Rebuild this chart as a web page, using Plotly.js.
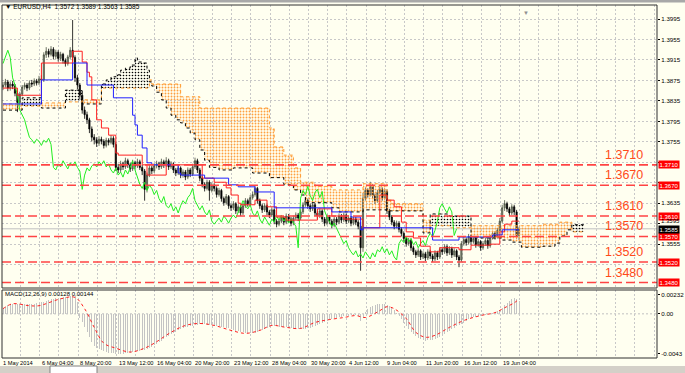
<!DOCTYPE html>
<html><head><meta charset="utf-8">
<script src="https://cdn.plot.ly/plotly-3.0.1.min.js"></script>
<style>html,body{margin:0;padding:0;background:#fffff0;}#chart{width:685px;height:373px;}</style>
</head><body><div id="chart"></div>
<script>
// ---- price data (in pips, price*10000), one value per H4 bar ----
const openP = [13862,13866,13872,13860,13868,13864,13850,13832,13848,13862,13866,13860,13870,13868,13874,13870,13878,13876,13925,13932,13926,13936,13922,13930,13918,13926,13914,13908,13921,13934,13920,13880,13866,13846,13817,13808,13798,13780,13764,13759,13752,13760,13756,13748,13758,13754,13762,13750,13705,13700,13712,13706,13718,13710,13702,13714,13708,13716,13705,13698,13662,13690,13704,13698,13708,13712,13706,13716,13710,13718,13706,13712,13700,13694,13704,13690,13696,13686,13700,13692,13706,13718,13700,13684,13672,13664,13676,13660,13670,13664,13652,13660,13644,13636,13648,13630,13626,13634,13620,13628,13616,13630,13640,13634,13646,13652,13664,13640,13630,13622,13630,13618,13612,13622,13600,13594,13600,13606,13598,13610,13604,13596,13606,13612,13606,13618,13632,13640,13630,13624,13632,13616,13610,13620,13604,13596,13608,13600,13592,13604,13598,13610,13602,13612,13600,13606,13596,13604,13598,13590,13548,13645,13660,13652,13668,13650,13640,13656,13662,13646,13658,13620,13608,13598,13590,13596,13584,13576,13566,13556,13562,13548,13540,13534,13542,13530,13536,13528,13540,13532,13526,13538,13530,13544,13540,13550,13538,13546,13534,13542,13530,13524,13556,13564,13558,13570,13560,13566,13554,13560,13548,13556,13562,13552,13568,13576,13570,13582,13600,13626,13634,13624,13616,13628,13618,13572];
const highP = [13872,13878,13876,13873,13874,13868,13855,13853,13866,13871,13870,13875,13876,13879,13878,13884,13885,13930,13940,13937,13942,13940,13935,13934,13931,13929,13918,13925,13940,13993,13924,13886,13870,13850,13824,13814,13802,13785,13770,13764,13766,13765,13760,13763,13762,13768,13766,13754,13712,13718,13716,13724,13722,13714,13720,13718,13722,13720,13710,13702,13695,13710,13708,13713,13718,13716,13722,13720,13725,13722,13717,13715,13704,13709,13707,13701,13700,13705,13704,13712,13724,13722,13704,13688,13676,13681,13680,13675,13674,13668,13665,13663,13648,13653,13651,13634,13639,13637,13633,13631,13635,13645,13644,13651,13658,13670,13667,13644,13634,13635,13633,13622,13627,13625,13604,13605,13611,13610,13615,13614,13608,13611,13617,13616,13623,13637,13646,13644,13634,13637,13635,13620,13625,13623,13608,13613,13612,13604,13609,13608,13615,13614,13617,13615,13611,13610,13609,13608,13602,13598,13655,13666,13664,13677,13672,13654,13661,13668,13666,13664,13662,13624,13612,13602,13601,13600,13588,13580,13570,13567,13566,13552,13544,13547,13545,13541,13540,13545,13544,13536,13543,13542,13549,13548,13555,13554,13551,13550,13547,13545,13534,13561,13570,13568,13575,13574,13571,13569,13565,13563,13561,13567,13566,13573,13581,13580,13587,13606,13632,13641,13638,13628,13633,13632,13622,13589];
const lowP = [13856,13861,13854,13855,13858,13844,13813,13826,13844,13857,13854,13856,13862,13864,13865,13866,13870,13872,13919,13920,13922,13916,13917,13912,13913,13908,13902,13904,13917,13912,13872,13858,13838,13810,13800,13790,13772,13756,13750,13745,13747,13750,13742,13744,13748,13750,13744,13698,13694,13696,13700,13702,13704,13696,13698,13702,13704,13700,13690,13640,13656,13686,13692,13694,13703,13700,13702,13704,13706,13700,13702,13694,13688,13690,13684,13685,13680,13682,13686,13688,13702,13694,13678,13666,13658,13660,13640,13656,13658,13646,13648,13638,13630,13632,13624,13620,13622,13614,13616,13610,13612,13626,13628,13630,13642,13648,13634,13624,13616,13618,13612,13606,13608,13594,13588,13590,13596,13592,13594,13598,13590,13592,13602,13600,13602,13614,13628,13624,13618,13620,13610,13604,13606,13598,13590,13592,13594,13586,13588,13592,13594,13596,13598,13594,13596,13590,13592,13592,13584,13503,13540,13640,13646,13648,13644,13634,13636,13652,13640,13642,13614,13602,13592,13584,13586,13578,13570,13560,13550,13552,13542,13534,13528,13530,13524,13526,13522,13524,13526,13520,13522,13524,13526,13534,13536,13532,13534,13528,13530,13524,13510,13520,13552,13552,13554,13554,13556,13548,13550,13542,13544,13552,13546,13548,13564,13564,13566,13578,13596,13620,13618,13610,13612,13612,13566,13563];
const closeP = [13866,13872,13860,13868,13864,13850,13832,13848,13862,13866,13860,13870,13868,13874,13870,13878,13876,13925,13932,13926,13936,13922,13930,13918,13926,13914,13908,13921,13934,13920,13880,13866,13846,13817,13808,13798,13780,13764,13759,13752,13760,13756,13748,13758,13754,13762,13750,13705,13700,13712,13706,13718,13710,13702,13714,13708,13716,13705,13698,13662,13690,13704,13698,13708,13712,13706,13716,13710,13718,13706,13712,13700,13694,13704,13690,13696,13686,13700,13692,13706,13718,13700,13684,13672,13664,13676,13660,13670,13664,13652,13660,13644,13636,13648,13630,13626,13634,13620,13628,13616,13630,13640,13634,13646,13652,13664,13640,13630,13622,13630,13618,13612,13622,13600,13594,13600,13606,13598,13610,13604,13596,13606,13612,13606,13618,13632,13640,13630,13624,13632,13616,13610,13620,13604,13596,13608,13600,13592,13604,13598,13610,13602,13612,13600,13606,13596,13604,13598,13590,13548,13645,13660,13652,13668,13650,13640,13656,13662,13646,13658,13620,13608,13598,13590,13596,13584,13576,13566,13556,13562,13548,13540,13534,13542,13530,13536,13528,13540,13532,13526,13538,13530,13544,13540,13550,13538,13546,13534,13542,13530,13524,13556,13564,13558,13570,13560,13566,13554,13560,13548,13556,13562,13552,13568,13576,13570,13582,13600,13626,13634,13624,13616,13628,13618,13572,13585];

// ---- Ichimoku (bar index, pips) ----
const tenkanX = [0,6,16,29,33,35,36,37,39,41,44,47,48,58,60,68,83,88,93,95,98,99,105,110,114,118,131,137,142,150,157,160,163,166,168,171,174,178,182,190,195,203,207,209,212,215];
const tenkanY = [13860,13846,13909,13932,13911,13891,13882,13837,13798,13782,13768,13733,13729,13710,13690,13710,13684,13676,13665,13651,13635,13632,13641,13628,13608,13602,13624,13610,13604,13587,13651,13641,13628,13598,13579,13567,13551,13540,13548,13544,13553,13555,13579,13594,13600,13600];
const kijunX = [0,16,29,35,46,54,55,56,58,60,62,73,74,84,94,98,105,113,137,145,149,150,179,190,204,208,215];
const kijunY = [13829,13876,13909,13866,13841,13807,13788,13768,13743,13714,13710,13694,13690,13684,13671,13667,13657,13626,13618,13608,13583,13587,13563,13569,13573,13583,13583];
const cloudX = [0,8,16,26,33,41,43,45,47,49,51,53,55,56,58,60,61,62,64,66,68,70,72,74,76,78,80,82,84,86,90,96,104,111,113,117,121,124,126,130,137,140,150,160,162,175,178,186,195,208,212,216,225,230,232,235,237,242];
const spanA = [13829,13825,13831,13833,13837,13860,13860,13860,13860,13860,13860,13860,13860,13860,13860,13860,13876,13868,13868,13868,13868,13868,13868,13843,13843,13843,13843,13821,13821,13821,13821,13821,13821,13782,13745,13729,13704,13676,13676,13668,13661,13661,13673,13641,13634,13602,13591,13587,13591,13591,13591,13591,13594,13594,13598,13598,13579,13579];
const spanB = [13817,13841,13821,13856,13829,13868,13876,13882,13886,13895,13899,13905,13919,13911,13909,13895,13872,13864,13852,13837,13821,13807,13798,13792,13782,13772,13759,13739,13719,13705,13700,13704,13694,13685,13685,13671,13661,13651,13636,13636,13626,13618,13622,13620,13620,13577,13614,13610,13567,13563,13559,13549,13551,13557,13571,13583,13593,13593];
const chikouShift = 26;

// ---- MACD (1e-5 units) ----
const macdHist = [55,70,85,95,98,100,99,97,96,95,96,97,99,100,102,105,112,120,128,135,140,145,150,155,158,162,165,168,172,175,176,120,-40,-80,-130,-180,-230,-270,-310,-330,-345,-355,-365,-375,-380,-385,-385,-390,-392,-390,-388,-385,-382,-378,-375,-370,-365,-360,-355,-352,-345,-335,-320,-305,-290,-275,-260,-245,-230,-215,-200,-185,-172,-160,-150,-140,-132,-125,-120,-115,-110,-105,-100,-100,-102,-105,-108,-110,-115,-118,-122,-126,-130,-135,-140,-150,-158,-165,-170,-175,-180,-185,-188,-190,-188,-182,-175,-165,-155,-145,-135,-128,-122,-120,-122,-125,-128,-130,-132,-135,-140,-145,-148,-150,-150,-148,-145,-140,-135,-125,-115,-105,-95,-85,-75,-65,-58,-50,-45,-40,-35,-30,-25,-20,-18,-15,-12,-10,-20,-70,-40,20,50,70,80,88,95,100,100,98,90,75,55,35,10,-20,-50,-85,-120,-150,-175,-200,-220,-235,-245,-255,-260,-258,-255,-250,-245,-235,-222,-208,-195,-180,-165,-150,-135,-120,-110,-100,-85,-70,-55,-45,-35,-30,-25,-20,-15,-10,-5,0,10,20,30,40,60,90,110,125,140,150,140,128];
const sigX = [0,4,11,15,24,30,34,38,42,47,53,59,63,70,76,82,88,95,101,107,112,118,124,130,136,142,147,151,157,160,163,168,172,176,180,186,192,199,205,209,213,215];
const sigY = [50,98,79,79,146,160,50,-132,-286,-334,-372,-334,-286,-180,-113,-94,-113,-161,-190,-161,-113,-132,-142,-84,-56,-36,-17,-36,31,69,50,-46,-180,-228,-209,-132,-65,-17,12,59,107,144];

// ---- labels ----
const xLabels = ['1 May 2014','6 May 04:00','8 May 20:00','13 May 12:00','16 May 04:00','20 May 20:00','23 May 12:00','28 May 04:00','30 May 20:00','4 Jun 12:00','9 Jun 04:00','11 Jun 20:00','16 Jun 12:00','19 Jun 04:00'];
const yTicks = [1.3995,1.3955,1.3915,1.3875,1.3835,1.3795,1.3755,1.3715,1.3675,1.3635,1.3595,1.3555,1.3515];
const yTickHidden = [1.3715,1.3675,1.3515]; // covered by the level boxes in the reference
const yTickRaised = [1.3595];               // squeezed above the current-price box in the reference
const levels = [1.3710,1.3670,1.3610,1.3570,1.3520,1.3480];
const lastPrice = 1.3585;
const titleText = '\u25BC EURUSD,H4  1.3572 1.3589 1.3563 1.3585';
const macdTitle = 'MACD(12,26,9) 0.00128 0.00144';
const macdTickVals = [0.00185, 0, -0.0039];
const macdTickText = ['0.00232','0.00','-0.0043'];

const P = v => v / 10000;
const M = v => v / 100000;
const FONT = 'Liberation Sans, Arial, sans-serif';

const idx = closeP.map((_, i) => i);
const traces = [];

// cloud segments
function sgn(j){ return spanA[j] >= spanB[j] ? 1 : -1; }
let s = 0;
for (let j = 1; j < cloudX.length; j++) {
  if (j === cloudX.length - 1 || sgn(j) !== sgn(s)) {
    const xs = cloudX.slice(s, j).concat([cloudX[j]]);
    const a = spanA.slice(s, j).concat([spanA[j-1]]).map(P);
    const b = spanB.slice(s, j).concat([spanB[j-1]]).map(P);
    const orange = sgn(s) > 0;
    traces.push({x: xs, y: b, mode: 'lines', line: {width: 0, shape: 'hv'}, hoverinfo: 'skip', xaxis: 'x', yaxis: 'y'});
    traces.push({x: xs, y: a, mode: 'lines', line: {width: 0, shape: 'hv'}, fill: 'tonexty',
      fillcolor: 'rgba(0,0,0,0)',
      fillpattern: {shape: '.', fgcolor: orange ? '#FFA040' : '#000000', bgcolor: 'rgba(0,0,0,0)', size: 3, solidity: orange ? 0.3 : 0.22},
      hoverinfo: 'skip', xaxis: 'x', yaxis: 'y'});
    s = j;
  }
}
traces.push({x: cloudX, y: spanA.map(P), mode: 'lines', line: {color: '#FF9A2E', width: 1, dash: 'dot', shape: 'hv'}, xaxis: 'x', yaxis: 'y'});
traces.push({x: cloudX, y: spanB.map(P), mode: 'lines', line: {color: '#000000', width: 1, dash: 'dot', shape: 'hv'}, xaxis: 'x', yaxis: 'y'});

// candles
traces.push({type: 'candlestick', x: idx, open: openP.map(P), high: highP.map(P), low: lowP.map(P), close: closeP.map(P),
  increasing: {line: {color: '#4a5040', width: 0.8}, fillcolor: '#8a9080'},
  decreasing: {line: {color: '#000000', width: 0.8}, fillcolor: '#000000'},
  whiskerwidth: 0, xaxis: 'x', yaxis: 'y', hoverinfo: 'skip'});

// chikou
const chX = idx.slice(chikouShift).map(i => i - chikouShift);
const chY = closeP.slice(chikouShift).map(P);
traces.push({x: chX, y: chY, mode: 'lines', line: {color: '#22EE22', width: 1}, xaxis: 'x', yaxis: 'y'});
// tenkan / kijun
traces.push({x: tenkanX, y: tenkanY.map(P), mode: 'lines', line: {color: '#FF2020', width: 1, shape: 'hv'}, xaxis: 'x', yaxis: 'y'});
traces.push({x: kijunX, y: kijunY.map(P), mode: 'lines', line: {color: '#2020FF', width: 1, shape: 'hv'}, xaxis: 'x', yaxis: 'y'});

// MACD
traces.push({type: 'bar', x: idx, y: macdHist.map(M), width: 0.42, marker: {color: '#c4c4c4', line: {width: 0}}, xaxis: 'x', yaxis: 'y2', hoverinfo: 'skip'});
traces.push({x: sigX, y: sigY.map(M), mode: 'lines', line: {color: '#FF2020', width: 1, dash: 'dot', shape: 'spline'}, xaxis: 'x', yaxis: 'y2'});

// layout geometry
const H = 373, MT = 5, MB = 15, plotH = H - MT - MB;
const mainBottom = (358 - 288) / plotH;
const macdTop = (358 - 290) / plotH;
const py = px => (358 - px) / plotH;
const pxX = px => (px - 2) / 655;

const xTickVals = [];
for (let k = 0; k < 36; k++) xTickVals.push(8 * k - 0.7);

const shapes = [];
const annotations = [];
levels.forEach(lv => {
  shapes.push({type: 'line', xref: 'paper', x0: 0, x1: 1, yref: 'y', y0: lv, y1: lv, line: {color: '#FF4444', width: 1.6, dash: '9px,4px'}, layer: 'above'});
  annotations.push({xref: 'paper', x: 0.949, yref: 'y', y: lv, yshift: 10, text: lv.toFixed(4), showarrow: false, xanchor: 'center', yanchor: 'middle', font: {family: FONT, size: 12.5, color: '#FF4A1A'}});
  annotations.push({xref: 'paper', x: 1, xshift: 1, yref: 'y', y: lv, text: lv.toFixed(4), showarrow: false, xanchor: 'left', yanchor: 'middle', bgcolor: '#FF0000', borderpad: 0.5, font: {family: FONT, size: 6, color: '#ffffff'}});
});
shapes.push({type: 'line', xref: 'paper', x0: 0, x1: 1, yref: 'y', y0: lastPrice, y1: lastPrice, line: {color: '#c0c0c0', width: 1}, layer: 'below'});
annotations.push({xref: 'paper', x: 1, xshift: 1, yref: 'y', y: lastPrice, yshift: -0.5, text: lastPrice.toFixed(4), showarrow: false, xanchor: 'left', yanchor: 'middle', bgcolor: '#000000', borderpad: 0.5, font: {family: FONT, size: 6, color: '#ffffff'}});
yTickRaised.forEach(v => {
  annotations.push({xref: 'paper', x: 1, xshift: 2, yref: 'y', y: v, yshift: 3, text: v.toFixed(4), showarrow: false, xanchor: 'left', yanchor: 'middle', font: {family: FONT, size: 6, color: '#000'}});
});
shapes.push({type: 'line', xref: 'paper', x0: 0, x1: 1, yref: 'y2', y0: 0, y1: 0, line: {color: '#c0c0c0', width: 1, dash: '2px,2px'}, layer: 'below'});
// pane borders
shapes.push({type: 'rect', xref: 'paper', yref: 'paper', x0: 0, x1: 1, y0: mainBottom, y1: 1, line: {color: '#303030', width: 1}});
shapes.push({type: 'rect', xref: 'paper', yref: 'paper', x0: 0, x1: 1, y0: 0, y1: macdTop, line: {color: '#303030', width: 1}});
// window strips
shapes.push({type: 'rect', xref: 'paper', yref: 'paper', x0: -0.01, x1: 1.05, y0: py(0), y1: py(2.5), line: {width: 0}, fillcolor: '#a8a8a8'});
shapes.push({type: 'rect', xref: 'paper', yref: 'paper', x0: -0.01, x1: 1.05, y0: py(366), y1: py(373.5), line: {width: 0}, fillcolor: '#d4d0c8'});
shapes.push({type: 'rect', xref: 'paper', yref: 'paper', x0: pxX(50), x1: pxX(97), y0: py(366), y1: py(373.5), line: {color: '#808080', width: 1}, fillcolor: '#ffffff'});

xLabels.forEach((t, k) => {
  annotations.push({xref: 'paper', x: pxX(1.3 + 38.4 * k), yref: 'paper', y: py(363), text: t, showarrow: false, xanchor: 'left', yanchor: 'middle', font: {family: FONT, size: 5.7, color: '#000'}});
});
annotations.push({xref: 'paper', x: 0, xshift: 1, yref: 'paper', y: py(7), text: titleText, showarrow: false, xanchor: 'left', yanchor: 'middle', font: {family: FONT, size: 6.5, color: '#000'}});
annotations.push({xref: 'paper', x: 0, xshift: 1, yref: 'paper', y: py(294), text: macdTitle, showarrow: false, xanchor: 'left', yanchor: 'middle', font: {family: FONT, size: 6, color: '#000'}});
annotations.push({xref: 'x', x: 218, yref: 'paper', y: py(8), text: '\u25BC', showarrow: false, font: {family: FONT, size: 6, color: '#909090'}});

const layout = {
  width: 685, height: H,
  margin: {l: 2, r: 28, t: MT, b: MB, pad: 0},
  paper_bgcolor: '#fffff0', plot_bgcolor: '#fffff0',
  showlegend: false, bargap: 0,
  xaxis: {range: [-0.42, 272.5], anchor: 'y2', tickvals: xTickVals, showticklabels: false, ticks: '',
    showgrid: true, gridcolor: '#c8c8c8', griddash: '2px,2px', gridwidth: 1, zeroline: false, showline: false,
    rangeslider: {visible: false}, fixedrange: true},
  yaxis: {domain: [mainBottom, 1], range: [1.34693, 1.40224], side: 'right', anchor: 'x',
    tickvals: yTicks, ticktext: yTicks.map(v => (yTickHidden.includes(v) || yTickRaised.includes(v)) ? '' : v.toFixed(4)), tickfont: {family: FONT, size: 6.2, color: '#000'},
    ticks: 'outside', ticklen: 2, tickcolor: '#000', showgrid: true, gridcolor: '#c8c8c8', griddash: '2px,2px',
    zeroline: false, showline: false},
  yaxis2: {domain: [0, macdTop], range: [-0.0043, 0.00232], side: 'right', anchor: 'x',
    tickvals: macdTickVals, ticktext: macdTickText, tickfont: {family: FONT, size: 6.2, color: '#000'},
    ticks: 'outside', ticklen: 2, tickcolor: '#000', showgrid: false, zeroline: false, showline: false},
  shapes: shapes, annotations: annotations
};

Plotly.newPlot('chart', traces, layout, {staticPlot: true, displayModeBar: false});
</script></body></html>
